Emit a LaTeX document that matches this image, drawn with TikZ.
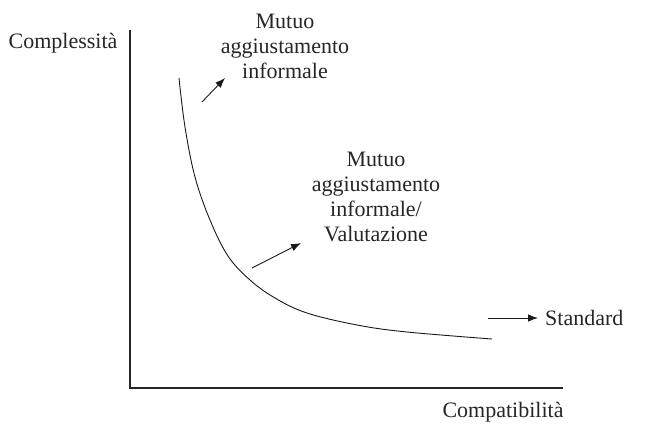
\documentclass[tikz,border=0pt]{standalone}
\usepackage{fontspec}
\setmainfont{Liberation Serif}
\usetikzlibrary{arrows.meta}
\begin{document}
\begin{tikzpicture}[x=1pt,y=-1pt,
  lbl/.style={font=\fontsize{22}{25}\selectfont, text=black!85, inner sep=0pt, align=center},
  axis/.style={line width=1.1pt, black!85},
  curvestyle/.style={line width=0.9pt, black!90},
  arr/.style={line width=0.9pt, black!90, -{Latex[length=10pt,width=7.5pt]}}]
\useasboundingbox (0,0) rectangle (646,424);
% axes
\coordinate (o) at (130,388);
\coordinate (ytop) at (130,30);
\coordinate (xend) at (563,388);
\draw[axis] (ytop) -- (o) -- (xend);
% labels
\node[lbl] (ylab) at (63,43) {Complessità};
\node[lbl] (xlab) at (503,412) {Compatibilità};
\node[lbl] (top) at (285,46) {Mutuo\\aggiustamento\\informale};
\node[lbl] (mid) at (376,197) {Mutuo\\aggiustamento\\informale/\\Valutazione};
\node[lbl, anchor=west] (std) at (545,318) {Standard};
% curve
\draw[curvestyle] plot[smooth, tension=0.6] coordinates {(179,78) (185,127) (195,177) (210,220) (228,256) (250,280) (275,298) (307,313) (357,325) (407,332) (492,339)};
% arrows
\coordinate (a1s) at (202,102);
\coordinate (a1e) at (225,78);
\coordinate (a2s) at (252,268);
\coordinate (a2e) at (301,243);
\coordinate (a3s) at (488,318);
\coordinate (a3e) at (538,318);
\draw[arr] (a1s) -- (a1e);
\draw[arr] (a2s) -- (a2e);
\draw[arr] (a3s) -- (a3e);
\end{tikzpicture}
\end{document}
